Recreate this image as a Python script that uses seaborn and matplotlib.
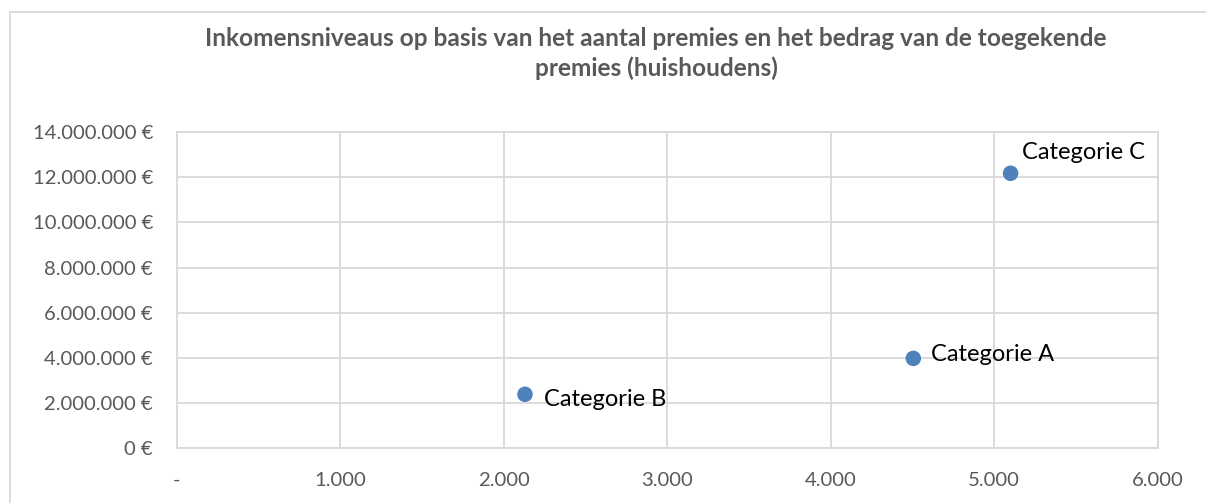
import matplotlib
matplotlib.use("Agg")
import matplotlib.pyplot as plt
import matplotlib.ticker as mticker
import seaborn as sns
import pandas as pd

# Data
categories = ["Categorie A", "Categorie B", "Categorie C"]
aantal_premies = [4505, 2130, 5100]
bedrag_premies = [3980000, 2390000, 12170000]

df = pd.DataFrame({"categorie": categories, "aantal": aantal_premies, "bedrag": bedrag_premies})

sns.set_theme(style="white")
plt.rcParams["font.family"] = ["Lato", "DejaVu Sans"]

grey_txt = "#595959"
grid_col = "#D9D9D9"

fig = plt.figure(figsize=(12.06, 5.03), dpi=100)
ax = fig.add_axes([0.1465, 0.1087, 0.8135, 0.629])

sns.scatterplot(data=df, x="aantal", y="bedrag", color="#4F81BD", s=125,
                edgecolor="none", ax=ax, zorder=3)

# Data labels
offsets = {"Categorie A": (13, 3), "Categorie B": (14, -4), "Categorie C": (8, 15)}
for _, r in df.iterrows():
    ax.annotate(r["categorie"], (r["aantal"], r["bedrag"]), xytext=offsets[r["categorie"]],
                textcoords="offset points", ha="left", va="center", fontsize=17, color="black")

ax.set_xlim(0, 6000)
ax.set_ylim(0, 14000000)
ax.xaxis.set_major_locator(mticker.MultipleLocator(1000))
ax.yaxis.set_major_locator(mticker.MultipleLocator(2000000))
ax.xaxis.set_major_formatter(mticker.FuncFormatter(
    lambda v, p: "-" if v == 0 else f"{int(v):,}".replace(",", ".")))
ax.yaxis.set_major_formatter(mticker.FuncFormatter(
    lambda v, p: f"{int(v):,} €".replace(",", ".")))

ax.grid(True, color=grid_col, linewidth=1.3)
ax.set_axisbelow(True)
for s in ax.spines.values():
    s.set_color(grid_col)
    s.set_linewidth(1.3)
ax.tick_params(axis="both", length=0, labelsize=14.6, colors=grey_txt)
ax.tick_params(axis="x", pad=17)
ax.tick_params(axis="y", pad=17)
ax.set_xlabel("")
ax.set_ylabel("")

fig.text(0.544, 0.894, "Inkomensniveaus op basis van het aantal premies en het bedrag van de toegekende\npremies (huishoudens)",
         ha="center", va="center", fontsize=17.6, fontweight="bold", color=grey_txt, linespacing=1.3)

# Chart frame (only top and left edges are visible in the crop)
fig.add_artist(plt.Line2D([10 / 1206, 10 / 1206], [0, 1 - 12 / 503], transform=fig.transFigure,
                          color=grid_col, linewidth=1.3))
fig.add_artist(plt.Line2D([10 / 1206, 1], [1 - 12 / 503, 1 - 12 / 503], transform=fig.transFigure,
                          color=grid_col, linewidth=1.3))

fig.savefig("out.png", dpi=100)
